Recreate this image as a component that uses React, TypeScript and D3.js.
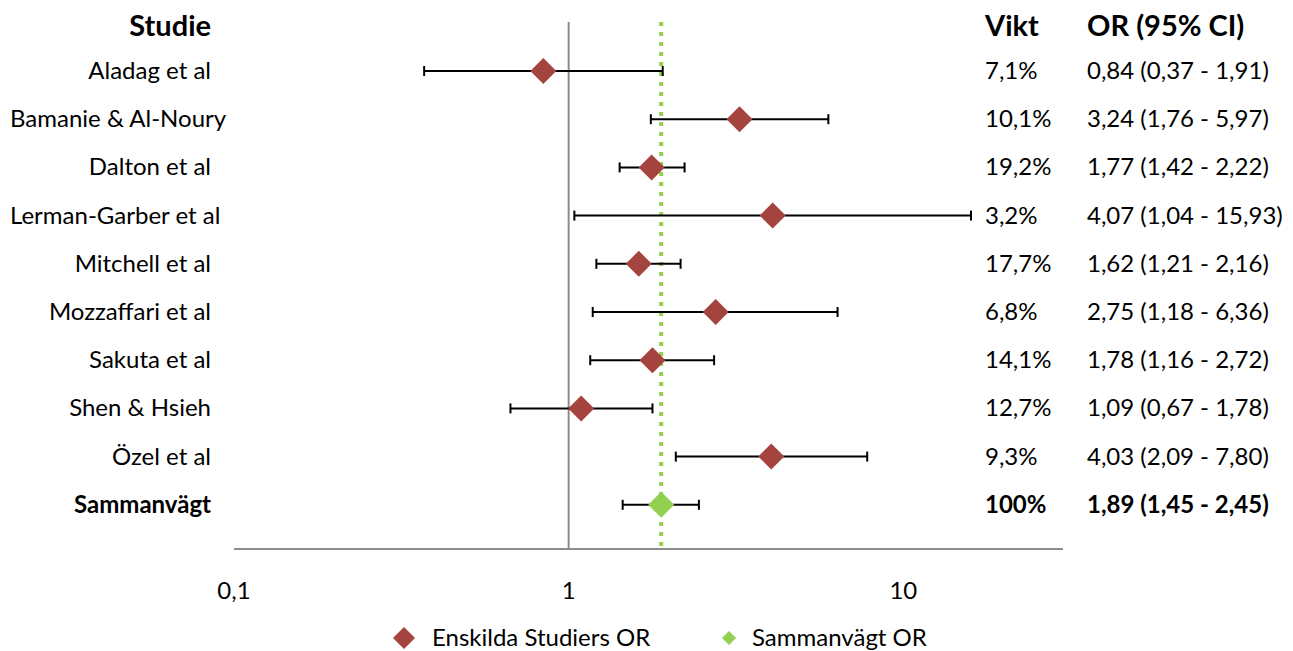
import * as React from 'react'
import {scaleLog} from 'd3'

// studier och värden
const studies = ['Aladag et al', 'Bamanie & Al-Noury', 'Dalton et al', 'Lerman-Garber et al', 'Mitchell et al',
  'Mozzaffari et al', 'Sakuta et al', 'Shen & Hsieh', 'Özel et al']
const or = [0.84, 3.24, 1.77, 4.07, 1.62, 2.75, 1.78, 1.09, 4.03]
const lo = [0.37, 1.76, 1.42, 1.04, 1.21, 1.18, 1.16, 0.67, 2.09]
const hi = [1.91, 5.97, 2.22, 15.93, 2.16, 6.36, 2.72, 1.78, 7.80]
const weights = ['7,1%', '10,1%', '19,2%', '3,2%', '17,7%', '6,8%', '14,1%', '12,7%', '9,3%']
const pooled = {name: 'Sammanvägt', or: 1.89, lo: 1.45, hi: 2.45, weight: '100%'}
const ticks = [0.1, 1, 10]
const tickLabels = ['0,1', '1', '10']

const fmt = (v: number) => v.toFixed(2).replace('.', ',')
const FONT = 'Lato, sans-serif'
const FS = 24

// mät textbredd, för långa namn vänsterjusteras som i Excel
let ctx: CanvasRenderingContext2D | null = null
const textWidth = (s: string, size: number, bold = false) => {
  if (!ctx) ctx = document.createElement('canvas').getContext('2d')
  if (!ctx) return 0
  ctx.font = `${bold ? 'bold ' : ''}${size}px Lato`
  return ctx.measureText(s).width
}

export default function App() {
  const x = scaleLog().domain([0.1, 30]).range([234, 1063])
  const rowY = (i: number) => 71 + i * 48.2
  const top = 22, axisY = 549
  const diamond = (s: number) => `M0,${-s}L${s},0L0,${s}L${-s},0Z`

  const label = (s: string, y: number, bold = false) => {
    const w = textWidth(s, FS, bold)
    const fits = w <= 201
    return (
      <text x={fits ? 211 : 10} y={y + 8} textAnchor={fits ? 'end' : 'start'} fontSize={FS}
        fontWeight={bold ? 'bold' : 'normal'}>{s}</text>
    )
  }

  const errBar = (l: number, h: number, y: number, key: string) => (
    <g key={key} stroke="#000" strokeWidth={2}>
      <line x1={x(l)} x2={x(h)} y1={y} y2={y} />
      <line x1={x(l)} x2={x(l)} y1={y - 5} y2={y + 5} />
      <line x1={x(h)} x2={x(h)} y1={y - 5} y2={y + 5} />
    </g>
  )

  const py = rowY(studies.length)

  return (
    <svg width={1293} height={651} style={{position: 'absolute', left: 0, top: 0}} fontFamily={FONT}>
      {/* rubriker */}
      <text x={211} y={36} textAnchor="end" fontSize={29} fontWeight="bold">Studie</text>
      <text x={985} y={36} fontSize={29} fontWeight="bold">Vikt</text>
      <text x={1087} y={36} fontSize={29} fontWeight="bold">OR (95% CI)</text>

      {/* referenslinjer */}
      <line x1={x(1)} x2={x(1)} y1={top} y2={axisY} stroke="#8c8c8c" strokeWidth={2} />
      <line x1={x(pooled.or)} x2={x(pooled.or)} y1={top} y2={axisY} stroke="#92D050" strokeWidth={4} strokeDasharray="4,6" />
      <line x1={x(0.1)} x2={x(30)} y1={axisY} y2={axisY} stroke="#8c8c8c" strokeWidth={2} />

      {ticks.map((t, i) => (
        <text key={t} x={x(t)} y={599} textAnchor="middle" fontSize={FS}>{tickLabels[i]}</text>
      ))}

      {studies.map((s, i) => {
        const y = rowY(i)
        return (
          <g key={s}>
            {label(s, y)}
            <text x={985} y={y + 8} fontSize={FS}>{weights[i]}</text>
            <text x={1087} y={y + 8} fontSize={FS}>{`${fmt(or[i])} (${fmt(lo[i])} - ${fmt(hi[i])})`}</text>
            {errBar(lo[i], hi[i], y, 'e' + i)}
            <path d={diamond(13)} transform={`translate(${x(or[i])},${y})`} fill="#A5443F" />
          </g>
        )
      })}

      {label(pooled.name, py, true)}
      <text x={985} y={py + 8} fontSize={FS} fontWeight="bold">{pooled.weight}</text>
      <text x={1087} y={py + 8} fontSize={FS} fontWeight="bold">{`${fmt(pooled.or)} (${fmt(pooled.lo)} - ${fmt(pooled.hi)})`}</text>
      {errBar(pooled.lo, pooled.hi, py, 'pooled')}
      <path d={diamond(13)} transform={`translate(${x(pooled.or)},${py})`} fill="#92D050" />

      {/* legend */}
      <path d={diamond(11)} transform="translate(404,638)" fill="#A5443F" />
      <text x={432} y={646} fontSize={FS}>Enskilda Studiers OR</text>
      <path d={diamond(7)} transform="translate(729,638)" fill="#92D050" />
      <text x={752} y={646} fontSize={FS}>Sammanvägt OR</text>
    </svg>
  )
}
